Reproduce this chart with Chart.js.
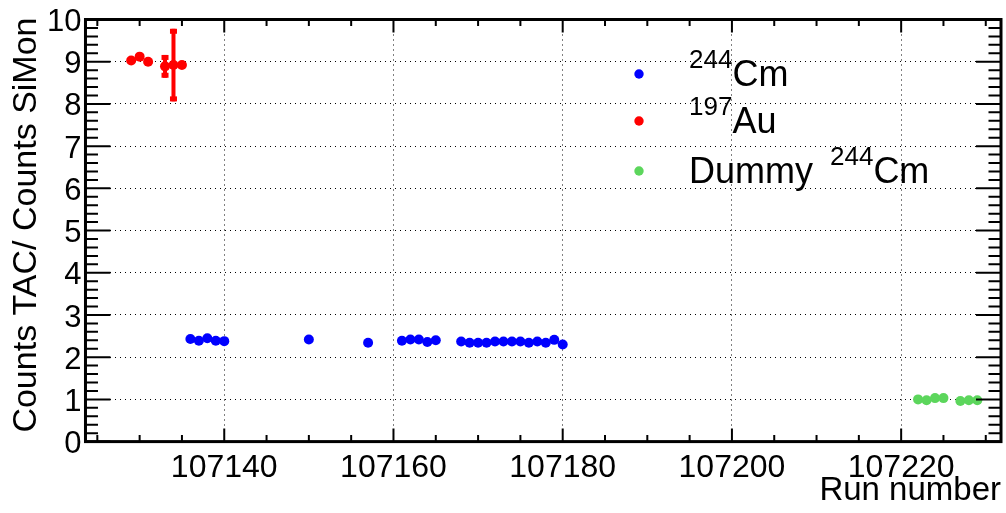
<!DOCTYPE html>
<html>
<head>
<meta charset="utf-8">
<title>Counts TAC / Counts SiMon per run</title>
<script src="https://cdn.jsdelivr.net/npm/chart.js@4.4.1/dist/chart.umd.min.js"></script>
<style>
  html, body { margin: 0; padding: 0; background: #fff; }
  #wrap { width: 1006px; height: 513px; }
</style>
</head>
<body>
<div id="wrap"><canvas id="ratioChart" width="1006" height="513"></canvas></div>
<script>
// ratio TAC / SiMon per run
const cmRuns = [107136, 107137, 107138, 107139, 107140, 107150, 107157,
  107161, 107162, 107163, 107164, 107165,
  107168, 107169, 107170, 107171, 107172, 107173, 107174, 107175, 107176,
  107177, 107178, 107179, 107180];
const cmRatio = [2.43, 2.39, 2.45, 2.39, 2.38, 2.42, 2.34,
  2.39, 2.42, 2.42, 2.36, 2.40,
  2.37, 2.34, 2.34, 2.34, 2.37, 2.37, 2.37, 2.37, 2.34,
  2.37, 2.34, 2.41, 2.30];

const auRuns = [107129, 107130, 107131, 107133, 107134, 107135];
const auRatio = [9.03, 9.12, 9.00, 8.89, 8.92, 8.92];
const auError = [0, 0, 0, 0.27, 0.86, 0];

const dummyRuns = [107222, 107223, 107224, 107225, 107227, 107228, 107229];
const dummyRatio = [1.00, 0.98, 1.03, 1.03, 0.96, 0.98, 0.98];

const xTickValues = [107140, 107160, 107180, 107200, 107220];
const yTickValues = [0, 1, 2, 3, 4, 5, 6, 7, 8, 9, 10];

// legend text: prefix, isotope mass (superscript), element
const legendPrefix = ['', '', 'Dummy'];
const legendMass = ['244', '197', '244'];
const legendElement = ['Cm', 'Au', 'Cm'];

(function () {
  'use strict';

  const FONT = "'Liberation Sans', Arial, sans-serif";
  Chart.defaults.font.family = FONT;
  Chart.defaults.color = '#000';

  const toPoints = (xs, ys) => xs.map((v, i) => ({ x: v, y: ys[i] }));

  /* ---------- ROOT-like decorations: error bars, inner ticks, frame ---------- */
  const rootFrame = {
    id: 'rootFrame',
    afterDatasetsDraw(chart) {
      const { ctx, chartArea: a, scales } = chart;
      const xs = scales.x, ys = scales.y;
      ctx.save();

      // error bars
      chart.data.datasets.forEach((ds, di) => {
        if (!ds.errors) return;
        const meta = chart.getDatasetMeta(di);
        ctx.fillStyle = ds.backgroundColor;
        meta.data.forEach((pt, i) => {
          const err = ds.errors[i];
          if (!err) return;
          const v = ds.data[i].y;
          const top = ys.getPixelForValue(v + err);
          const bot = ys.getPixelForValue(v - err);
          ctx.fillRect(pt.x - 2, top, 4, bot - top);
          ctx.fillRect(pt.x - 3.5, top, 7, 5);
          ctx.fillRect(pt.x - 3.5, bot - 5, 7, 5);
        });
      });

      ctx.strokeStyle = '#000';
      ctx.lineWidth = 2;
      ctx.beginPath();
      // x ticks, every 5 runs, long ones every 20
      const x0 = Math.ceil(xs.min / 5) * 5;
      for (let v = x0; v <= xs.max; v += 5) {
        const px = xs.getPixelForValue(v);
        const len = v % 20 === 0 ? 13 : 6.5;
        ctx.moveTo(px, a.bottom); ctx.lineTo(px, a.bottom - len);
        ctx.moveTo(px, a.top); ctx.lineTo(px, a.top + len);
      }
      // y ticks, every 0.2
      for (let k = 0; k <= 50; k++) {
        const py = ys.getPixelForValue(k * 0.2);
        const len = k % 5 === 0 ? 25 : 12.5;
        ctx.moveTo(a.left, py); ctx.lineTo(a.left + len, py);
        ctx.moveTo(a.right, py); ctx.lineTo(a.right - len, py);
      }
      ctx.stroke();

      ctx.lineWidth = 3;
      ctx.strokeRect(a.left, a.top, a.right - a.left, a.bottom - a.top);
      ctx.restore();
    },

    afterDraw(chart) {
      const { ctx, chartArea: a } = chart;
      ctx.save();
      ctx.fillStyle = '#000';

      // axis titles
      ctx.font = '33px ' + FONT;
      ctx.textAlign = 'right';
      ctx.textBaseline = 'alphabetic';
      ctx.fillText('Run number', a.right, 500);

      ctx.font = '34px ' + FONT;
      ctx.translate(36, a.top - 2);
      ctx.rotate(-Math.PI / 2);
      ctx.fillText('Counts TAC/ Counts SiMon', 0, 0);
      ctx.setTransform(1, 0, 0, 1, 0, 0);

      // legend
      const rowY = [86, 133, 183];
      chart.data.datasets.forEach((ds, i) => {
        const base = rowY[i];
        ctx.fillStyle = ds.backgroundColor;
        ctx.beginPath();
        ctx.arc(639, base - 12, 4.7, 0, Math.PI * 2);
        ctx.fill();

        ctx.fillStyle = '#000';
        ctx.textAlign = 'left';
        let tx = 689;
        ctx.font = '36px ' + FONT;
        if (legendPrefix[i]) {
          ctx.fillText(legendPrefix[i], tx, base);
          tx += ctx.measureText(legendPrefix[i]).width + 17;
        }
        ctx.font = '26px ' + FONT;
        ctx.fillText(legendMass[i], tx, base - 18);
        tx += ctx.measureText(legendMass[i]).width;
        ctx.font = '36px ' + FONT;
        ctx.fillText(legendElement[i], tx, base);
      });
      ctx.restore();
    }
  };

  const RatioChart = {
    init() {
      const canvas = document.getElementById('ratioChart');
      new Chart(canvas.getContext('2d'), {
        type: 'scatter',
        data: {
          datasets: [
            {
              label: '244Cm',
              data: toPoints(cmRuns, cmRatio),
              backgroundColor: '#0000ff',
            },
            {
              label: '197Au',
              data: toPoints(auRuns, auRatio),
              errors: auError,
              backgroundColor: '#ff0000',
            },
            {
              label: 'Dummy 244Cm',
              data: toPoints(dummyRuns, dummyRatio),
              backgroundColor: '#5cd65c',
            },
          ],
        },
        options: {
          responsive: false,
          animation: false,
          events: [],
          elements: {
            point: { radius: 5, borderWidth: 0, hoverRadius: 5 },
          },
          layout: { padding: { left: 43, top: 17, right: 4, bottom: 19 } },
          plugins: {
            legend: { display: false },
            tooltip: { enabled: false },
          },
          scales: {
            x: {
              type: 'linear',
              min: 107123.6,
              max: 107231.8,
              afterBuildTicks: (s) => { s.ticks = xTickValues.map((v) => ({ value: v })); },
              ticks: {
                callback: (v) => String(v),
                font: { size: 32 },
                color: '#000',
                padding: 7,
                maxRotation: 0,
              },
              grid: { color: '#000', lineWidth: 1, drawTicks: false },
              border: { display: false, dash: [1, 4] },
            },
            y: {
              min: 0,
              max: 10,
              afterBuildTicks: (s) => { s.ticks = yTickValues.map((v) => ({ value: v })); },
              ticks: {
                font: { size: 31, lineHeight: 1 },
                color: '#000',
                padding: 4,
                labelOffset: 3,
              },
              grid: { color: '#000', lineWidth: 1, drawTicks: false },
              border: { display: false, dash: [1, 4] },
            },
          },
        },
        plugins: [rootFrame],
      });
    },
  };

  RatioChart.init();
})();
</script>
</body>
</html>
